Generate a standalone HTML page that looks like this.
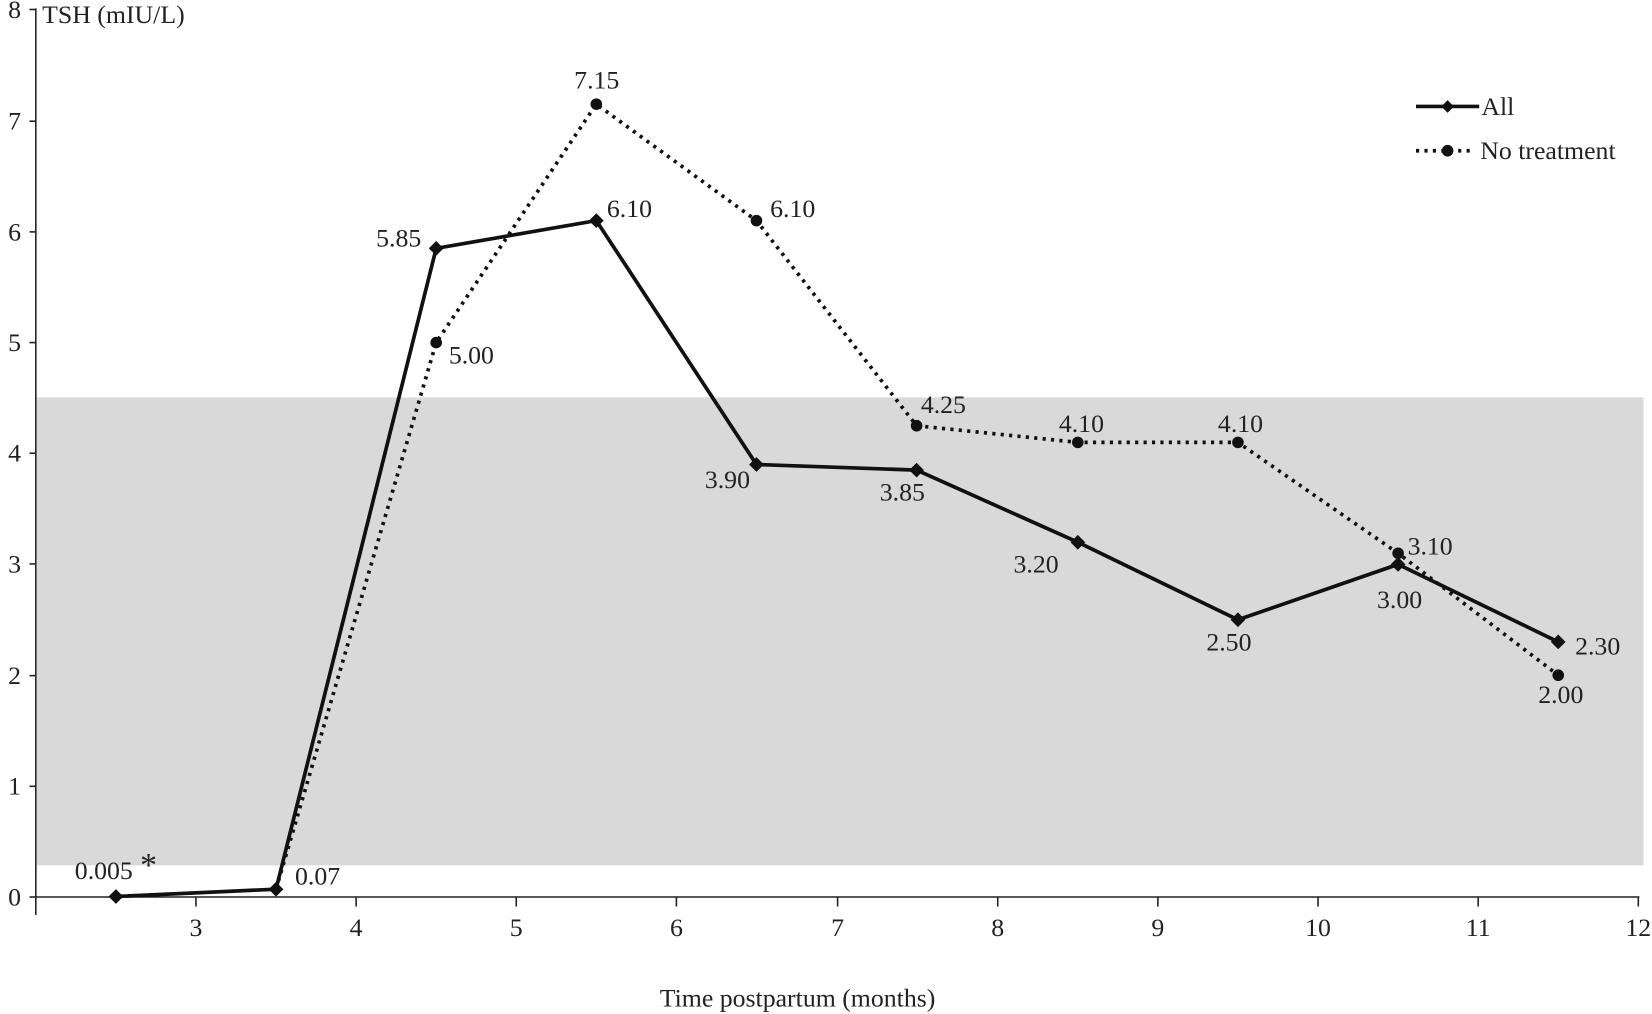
<!DOCTYPE html>
<html><head><meta charset="utf-8"><style>body{margin:0;background:#fff}svg{display:block}text{font-family:"Liberation Serif",serif;font-size:24.5px;fill:#222}</style></head><body>
<svg width="1652" height="1014" viewBox="0 0 1568 962" preserveAspectRatio="none">
<rect x="35" y="377" width="1525" height="444" fill="#d9d9d9"/>
<g stroke="#222" stroke-width="1.5">
<line x1="34" y1="8" x2="34" y2="851"/><line x1="34" y1="851" x2="1556" y2="851"/>
<line x1="28" y1="851" x2="34" y2="851"/><line x1="28" y1="746" x2="34" y2="746"/><line x1="28" y1="641" x2="34" y2="641"/><line x1="28" y1="535" x2="34" y2="535"/><line x1="28" y1="430" x2="34" y2="430"/><line x1="28" y1="325" x2="34" y2="325"/><line x1="28" y1="220" x2="34" y2="220"/><line x1="28" y1="115" x2="34" y2="115"/><line x1="28" y1="9" x2="34" y2="9"/>
<line x1="34" y1="851" x2="34" y2="868"/><line x1="186" y1="851" x2="186" y2="860"/><line x1="338" y1="851" x2="338" y2="860"/><line x1="490" y1="851" x2="490" y2="860"/><line x1="642" y1="851" x2="642" y2="860"/><line x1="795" y1="851" x2="795" y2="860"/><line x1="947" y1="851" x2="947" y2="860"/><line x1="1099" y1="851" x2="1099" y2="860"/><line x1="1251" y1="851" x2="1251" y2="860"/><line x1="1403" y1="851" x2="1403" y2="860"/><line x1="1555" y1="851" x2="1555" y2="860"/>
</g>
<g text-anchor="end"><text x="20" y="859">0</text><text x="20" y="754">1</text><text x="20" y="649">2</text><text x="20" y="543">3</text><text x="20" y="438">4</text><text x="20" y="333">5</text><text x="20" y="228">6</text><text x="20" y="123">7</text><text x="20" y="17">8</text></g>
<g text-anchor="middle"><text x="186" y="888">3</text><text x="338" y="888">4</text><text x="490" y="888">5</text><text x="642" y="888">6</text><text x="795" y="888">7</text><text x="947" y="888">8</text><text x="1099" y="888">9</text><text x="1251" y="888">10</text><text x="1403" y="888">11</text><text x="1555" y="888">12</text></g>
<text x="40" y="22">TSH (mIU/L)</text>
<text x="757" y="955" text-anchor="middle">Time postpartum (months)</text>
<polyline fill="none" stroke="#111" stroke-width="3.5" stroke-dasharray="3,5" points="262,843.6 414,325 566,98.8 718,209.3 870,403.9 1023,419.7 1175,419.7 1327,524.9 1479,640.6"/>
<g fill="#111"><circle cx="414" cy="325" r="5.5"/><circle cx="566" cy="98.8" r="5.5"/><circle cx="718" cy="209.3" r="5.5"/><circle cx="870" cy="403.9" r="5.5"/><circle cx="1023" cy="419.7" r="5.5"/><circle cx="1175" cy="419.7" r="5.5"/><circle cx="1327" cy="524.9" r="5.5"/><circle cx="1479" cy="640.6" r="5.5"/></g>
<polyline fill="none" stroke="#111" stroke-width="3.5" points="110,850.5 262,843.6 414,235.6 566,209.3 718,440.7 870,446 1023,514.4 1175,588 1327,535.4 1479,609"/>
<g fill="#111"><path d="M110,843.5l7,7l-7,7l-7,-7z"/><path d="M262,836.6l7,7l-7,7l-7,-7z"/><path d="M414,228.6l7,7l-7,7l-7,-7z"/><path d="M566,202.3l7,7l-7,7l-7,-7z"/><path d="M718,433.7l7,7l-7,7l-7,-7z"/><path d="M870,439l7,7l-7,7l-7,-7z"/><path d="M1023,507.4l7,7l-7,7l-7,-7z"/><path d="M1175,581l7,7l-7,7l-7,-7z"/><path d="M1327,528.4l7,7l-7,7l-7,-7z"/><path d="M1479,602l7,7l-7,7l-7,-7z"/></g>
<text x="71" y="834">0.005</text><text x="133" y="831" style="font-size:32px">*</text>
<text x="280" y="839">0.07</text>
<text x="357" y="234">5.85</text><text x="576" y="206">6.10</text>
<text x="426" y="345">5.00</text><text x="545" y="84">7.15</text><text x="731" y="206">6.10</text>
<text x="669" y="463">3.90</text><text x="835" y="475">3.85</text><text x="962" y="543">3.20</text><text x="1145" y="617">2.50</text><text x="1307" y="577">3.00</text><text x="1495" y="621">2.30</text>
<text x="874" y="392">4.25</text><text x="1005" y="410">4.10</text><text x="1156" y="410">4.10</text><text x="1336" y="526">3.10</text><text x="1460" y="667">2.00</text>
<line x1="1344" y1="101" x2="1404" y2="101" stroke="#111" stroke-width="3.5"/><path d="M1374,95l6,6l-6,6l-6,-6z" fill="#111"/>
<text x="1406" y="109">All</text>
<line x1="1344" y1="143" x2="1398" y2="143" stroke="#111" stroke-width="3.5" stroke-dasharray="3,5"/><circle cx="1374" cy="143" r="5.5" fill="#111"/>
<text x="1405" y="151">No treatment</text>
</svg></body></html>
